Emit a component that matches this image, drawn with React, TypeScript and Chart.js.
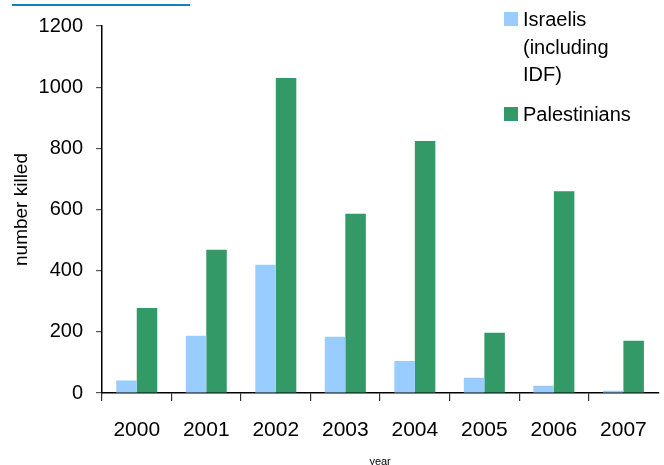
import React, { useEffect, useRef } from 'react';
import { Chart, registerables } from 'chart.js';

Chart.register(...registerables);

const FONT = '"Liberation Sans", Arial, Helvetica, sans-serif';

const years: string[] = ['2000', '2001', '2002', '2003', '2004', '2005', '2006', '2007'];
const israelis: number[] = [41, 187, 419, 184, 105, 50, 24, 7];
const palestinians: number[] = [278, 468, 1030, 586, 824, 197, 660, 171];
const yMin = 0;
const yMax = 1200;
const yStep = 200;

const israeliLabel: string[] = ['Israelis', '(including', 'IDF)'];
const palestinianLabel: string[] = ['Palestinians'];
const israeliColor = '#99CCFF';
const palestinianColor = '#339966';

export default function App() {
  const ref = useRef<HTMLCanvasElement>(null);

  useEffect(() => {
    document.body.style.margin = '0';
    const chart = new Chart(ref.current!, {
      type: 'bar',
      data: {
        labels: years,
        datasets: [
          {
            label: israeliLabel.join(' '),
            data: israelis,
            backgroundColor: israeliColor,
            borderWidth: 0,
            categoryPercentage: 0.59,
            barPercentage: 1.0,
          },
          {
            label: palestinianLabel.join(' '),
            data: palestinians,
            backgroundColor: palestinianColor,
            borderWidth: 0,
            categoryPercentage: 0.59,
            barPercentage: 1.0,
          },
        ],
      },
      options: {
        responsive: false,
        animation: false,
        layout: { padding: { top: 26, right: 4, left: 0, bottom: 0 } },
        plugins: {
          legend: { display: false },
          tooltip: { enabled: false },
        },
        scales: {
          x: {
            grid: {
              display: true,
              drawOnChartArea: false,
              drawTicks: true,
              tickLength: 8,
              color: (ctx: any) => (ctx.type !== 'tick' ? 'rgba(0,0,0,0)' : '#333'),
              offset: true,
              lineWidth: 1.2,
            },
            border: { display: true, color: '#000', width: 1.5 },
            ticks: {
              font: { size: 21, family: FONT },
              color: '#000',
              padding: 17,
              maxRotation: 0,
              autoSkip: false,
            },
            title: {
              display: true,
              text: 'year',
              font: { size: 11, family: FONT },
              color: '#000',
              padding: { top: 12.4, bottom: 0 },
            },
            afterFit: (s: any) => {
              s.height = 76;
            },
          },
          y: {
            min: yMin,
            max: yMax,
            grid: {
              display: true,
              drawOnChartArea: false,
              drawTicks: true,
              tickLength: 6,
              color: '#555',
              lineWidth: 1.2,
            },
            border: { display: true, color: '#000', width: 1.5 },
            ticks: {
              stepSize: yStep,
              font: { size: 20, family: FONT },
              color: '#000',
              padding: 13,
              callback: (v: any) => String(v),
            },
            title: {
              display: true,
              text: 'number killed',
              font: { size: 19, family: FONT },
              color: '#000',
              padding: { top: 10.6, bottom: 0 },
            },
            afterFit: (s: any) => {
              s.width = 102;
            },
          },
        },
      },
    });
    return () => chart.destroy();
  }, []);

  const legendText: React.CSSProperties = {
    position: 'absolute',
    left: 523,
    fontFamily: FONT,
    fontSize: 20,
    lineHeight: '27.5px',
    color: '#000',
    whiteSpace: 'nowrap',
  };

  return (
    <div style={{ position: 'relative', width: 664, height: 465, overflow: 'hidden', background: '#fff' }}>
      <canvas ref={ref} width={664} height={469} style={{ width: 664, height: 469, display: 'block' }} />
      <div style={{ position: 'absolute', left: 12, top: 4, width: 178, height: 2, background: '#0a84c6' }} />
      <div style={{ position: 'absolute', left: 504, top: 12, width: 14, height: 14, background: israeliColor }} />
      <div style={{ ...legendText, top: 6 }}>
        {israeliLabel.map((t, i) => (
          <div key={i}>{t}</div>
        ))}
      </div>
      <div style={{ position: 'absolute', left: 504, top: 107, width: 14, height: 14, background: palestinianColor }} />
      <div style={{ ...legendText, top: 100.5 }}>
        {palestinianLabel.map((t, i) => (
          <div key={i}>{t}</div>
        ))}
      </div>
    </div>
  );
}
